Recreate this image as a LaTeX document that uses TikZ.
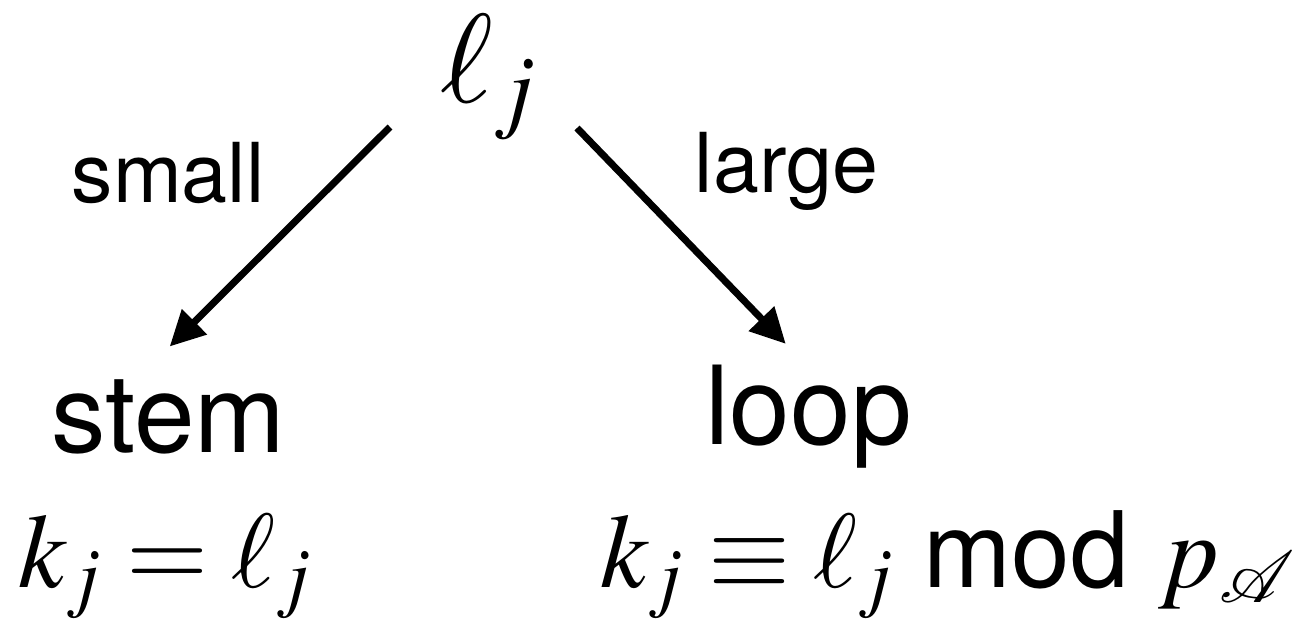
\documentclass[tikz,border=0pt]{standalone}
\usepackage{mathptmx}
\usepackage{mathrsfs}
\usepackage[no-math]{fontspec}
\setmainfont{TeX Gyre Heros}
\usetikzlibrary{arrows.meta,calc}

\begin{document}
\begin{tikzpicture}[>={Triangle[length=0.35cm,width=0.34cm]}, x=0.01cm, y=-0.01cm,
		lbl/.style={anchor=base west, inner sep=0pt}]
	\useasboundingbox (0,0) rectangle (1293,630);
	% top value
	\node[lbl, font=\fontsize{36}{42}\selectfont] (ell) at (440,102) {$\ell_{j}$};
	% branch labels
	\node[lbl, font=\fontsize{23.5}{28}\selectfont] (small) at (71,202) {small};
	\node[lbl, font=\fontsize{23.5}{28}\selectfont] (large) at (694,192) {large};
	\node[lbl, font=\fontsize{31}{37}\selectfont] (stem) at (51,452) {stem};
	\node[lbl, font=\fontsize{31}{37}\selectfont] (loop) at (705,444) {loop};
	% formulas
	\node[lbl, font=\fontsize{30}{36}\selectfont] (stemeq) at (18,587) {$k_j = \ell_j$};
	\node[lbl, font=\fontsize{30}{36}\selectfont] (loopeq) at (600,587) {$k_j \equiv \ell_j$ mod $p_{\mathscr{A}}$};
	\draw[->, line width=2pt] ($(ell.base west)+(-50,25)$) -- ($(stem.north)+(1,-32)$);
	\draw[->, line width=2pt] ($(ell.base west)+(137,26)$) -- ($(loop.north)+(-23,-20)$);
\end{tikzpicture}
\end{document}
